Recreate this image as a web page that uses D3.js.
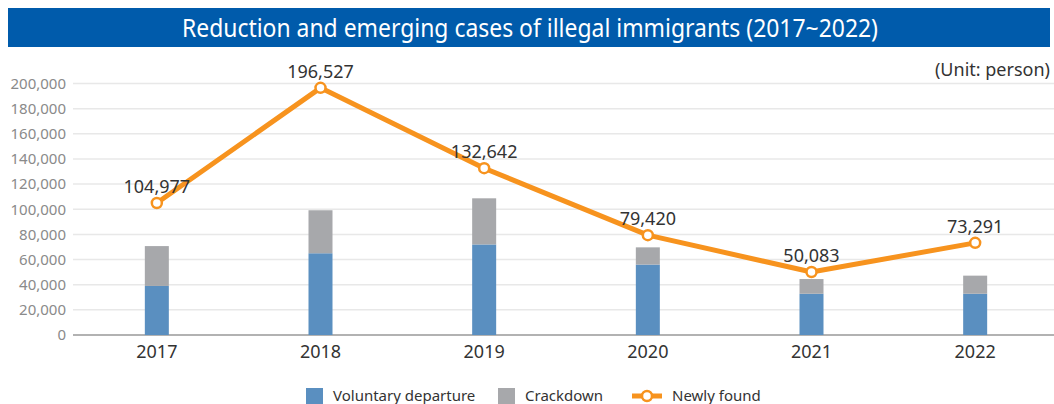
<!DOCTYPE html>
<html>
<head>
<meta charset="utf-8">
<script src="https://cdn.jsdelivr.net/npm/d3@7"></script>
<style>
  body { margin: 0; background: #fff; }
  svg { display: block; font-family: "Noto Sans", "DejaVu Sans", sans-serif; }
</style>
</head>
<body>
<svg width="1054" height="404"></svg>
<script>
// chart data
var years = ["2017", "2018", "2019", "2020", "2021", "2022"];
var voluntary = [39000, 65000, 72000, 56000, 32800, 32800];
var crackdown = [31700, 34200, 36700, 13700, 11700, 14400];
var newlyFound = [104977, 196527, 132642, 79420, 50083, 73291];
var yTicks = [0, 20000, 40000, 60000, 80000, 100000, 120000, 140000, 160000, 180000, 200000];

var colors = {
    "voluntary": "#5a8fc0",
    "crackdown": "#a7a8ab",
    "line": "#f7931e"
};

var svg = d3.select("svg"),
    width = +svg.attr("width"),
    height = +svg.attr("height");

// title bar
svg.append("rect")
    .attr("x", 8).attr("y", 8)
    .attr("width", 1042).attr("height", 39)
    .attr("fill", "#005bab");

svg.append("text")
    .attr("x", 530).attr("y", 37)
    .attr("text-anchor", "middle")
    .attr("fill", "#fff")
    .attr("textLength", 696)
    .attr("lengthAdjust", "spacingAndGlyphs")
    .style("font-family", "'Liberation Sans Narrow', 'Noto Sans', sans-serif")
    .style("font-size", "25px")
    .text("Reduction and emerging cases of illegal immigrants (2017~2022)");

svg.append("text")
    .attr("x", 1050).attr("y", 76)
    .attr("text-anchor", "end")
    .attr("fill", "#333")
    .style("font-size", "18px")
    .style("font-family", "'Liberation Sans Narrow', 'Noto Sans', sans-serif")
    .text("(Unit: person)");

var x = d3.scaleBand()
    .domain(years)
    .range([75, 1057]);

var y = d3.scaleLinear()
    .domain([0, 200000])
    .range([335, 83.5]);

// grid
svg.append("g")
    .selectAll("line")
    .data(yTicks)
    .enter().append("line")
    .attr("x1", 73).attr("x2", 1054)
    .attr("y1", function(d) { return y(d); })
    .attr("y2", function(d) { return y(d); })
    .attr("stroke", function(d) { return d === 0 ? "#999" : "#e8e8e8"; })
    .attr("stroke-width", 1.5);

// y axis labels
var yAxis = svg.append("g")
    .attr("transform", "translate(73,0)")
    .call(d3.axisLeft(y).tickValues(yTicks).tickSize(0).tickPadding(7).tickFormat(d3.format(",")));
yAxis.select(".domain").remove();
yAxis.selectAll("text")
    .attr("fill", "#8a8a8a")
    .style("font-size", "15px")
    .style("font-family", "'Noto Sans', sans-serif");

// x axis labels
var xAxis = svg.append("g")
    .attr("transform", "translate(0,335)")
    .call(d3.axisBottom(x).tickSize(0).tickPadding(10));
xAxis.select(".domain").remove();
xAxis.selectAll("text")
    .attr("fill", "#333")
    .style("font-size", "18px")
    .style("font-family", "'Noto Sans', sans-serif");

// stacked bars
var barW = 24;
var rows = years.map(function(yr, i) {
    return { year: yr, voluntary: voluntary[i], crackdown: crackdown[i] };
});
var stack = d3.stack().keys(["voluntary", "crackdown"]);

svg.append("g")
    .selectAll("g")
    .data(stack(rows))
    .enter().append("g")
    .attr("fill", function(d) { return colors[d.key]; })
    .selectAll("rect")
    .data(function(d) { return d; })
    .enter().append("rect")
    .attr("x", function(d) { return x(d.data.year) + x.bandwidth() / 2 - barW / 2; })
    .attr("width", barW)
    .attr("y", function(d) { return y(d[1]); })
    .attr("height", function(d) { return y(d[0]) - y(d[1]); });

// line
var line = d3.line()
    .x(function(d, i) { return x(years[i]) + x.bandwidth() / 2; })
    .y(function(d) { return y(d); });

svg.append("path")
    .datum(newlyFound)
    .attr("d", line)
    .attr("fill", "none")
    .attr("stroke", colors.line)
    .attr("stroke-width", 5)
    .attr("stroke-linejoin", "round");

svg.append("g")
    .selectAll("circle")
    .data(newlyFound)
    .enter().append("circle")
    .attr("cx", function(d, i) { return x(years[i]) + x.bandwidth() / 2; })
    .attr("cy", function(d) { return y(d); })
    .attr("r", 5)
    .attr("fill", "#fff")
    .attr("stroke", colors.line)
    .attr("stroke-width", 2.5);

svg.append("g")
    .selectAll("text")
    .data(newlyFound)
    .enter().append("text")
    .attr("x", function(d, i) { return x(years[i]) + x.bandwidth() / 2; })
    .attr("y", function(d) { return y(d) - 10; })
    .attr("text-anchor", "middle")
    .attr("fill", "#333")
    .style("font-size", "18px")
    .text(d3.format(","));

// legend
var legend = svg.append("g");
legend.append("rect").attr("x", 306).attr("y", 388).attr("width", 17).attr("height", 17).attr("fill", colors.voluntary);
legend.append("text").attr("x", 333).attr("y", 401).text("Voluntary departure");
legend.append("rect").attr("x", 498).attr("y", 388).attr("width", 17).attr("height", 17).attr("fill", colors.crackdown);
legend.append("text").attr("x", 525).attr("y", 401).text("Crackdown");
legend.append("line").attr("x1", 632).attr("x2", 662).attr("y1", 396).attr("y2", 396)
    .attr("stroke", colors.line).attr("stroke-width", 5);
legend.append("circle").attr("cx", 647).attr("cy", 396).attr("r", 5)
    .attr("fill", "#fff").attr("stroke", colors.line).attr("stroke-width", 2.5);
legend.append("text").attr("x", 672).attr("y", 401).text("Newly found");
legend.selectAll("text").attr("fill", "#333").style("font-size", "15px");
</script>
</body>
</html>
